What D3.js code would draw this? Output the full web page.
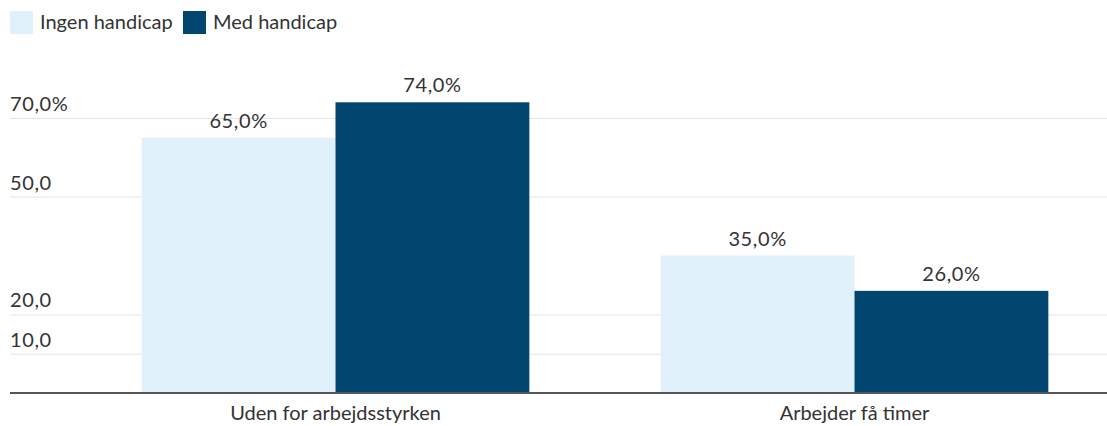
<!DOCTYPE html>
<html>
<head>
<meta charset="utf-8">
<script src="https://cdn.jsdelivr.net/npm/d3@7"></script>
<style>
  body { margin: 0; background: #fff; font-family: Lato, "Noto Sans", sans-serif; }
  svg text { fill: #333; }
</style>
</head>
<body>
<div id="chart"></div>
<script>
// chart data
var categories = ["Uden for arbejdsstyrken", "Arbejder få timer"];
var series = ["Ingen handicap", "Med handicap"];
var ingen = [65.0, 35.0];
var med = [74.0, 26.0];
var yTicks = [10, 20, 50, 70];
var colors = ["#e0f1fc", "#01466e"];

var width = 1107, height = 426;
var fmt = function(v) { return d3.format(".1f")(v).replace(".", ","); };

var svg = d3.select("#chart").append("svg")
  .attr("width", width)
  .attr("height", height);

var y = d3.scaleLinear().domain([0, 70]).range([393, 118]);

var x0 = d3.scaleBand()
  .domain(categories)
  .range([76, 1114])
  .paddingInner(0.253)
  .paddingOuter(0.1265);

var x1 = d3.scaleBand()
  .domain(series)
  .range([0, x0.bandwidth()]);

var color = d3.scaleOrdinal().domain(series).range(colors);

// gridlines + tick labels
var grid = svg.append("g");
grid.selectAll("line")
  .data(yTicks)
  .enter().append("line")
  .attr("x1", 10).attr("x2", width)
  .attr("y1", function(d) { return y(d) + 0.5; })
  .attr("y2", function(d) { return y(d) + 0.5; })
  .style("stroke", "#e4e4e4")
  .style("stroke-width", 1);

grid.selectAll("text")
  .data(yTicks)
  .enter().append("text")
  .attr("x", 10)
  .attr("y", function(d) { return y(d) - 7; })
  .style("font-size", "20px")
  .style("letter-spacing", "0.6px")
  .text(function(d, i) { return fmt(d) + (i == yTicks.length - 1 ? "%" : ""); });

// bars
var rows = categories.map(function(c, i) {
  return [{cat: c, s: series[0], v: ingen[i]}, {cat: c, s: series[1], v: med[i]}];
});

var groups = svg.selectAll("g.group")
  .data(rows)
  .enter().append("g")
  .attr("class", "group")
  .attr("transform", function(d) { return "translate(" + x0(d[0].cat) + ",0)"; });

groups.selectAll("rect")
  .data(function(d) { return d; })
  .enter().append("rect")
  .attr("x", function(d) { return x1(d.s); })
  .attr("width", x1.bandwidth())
  .attr("y", function(d) { return y(d.v); })
  .attr("height", function(d) { return y(0) - y(d.v); })
  .style("fill", function(d) { return color(d.s); });

groups.selectAll("text")
  .data(function(d) { return d; })
  .enter().append("text")
  .attr("x", function(d) { return x1(d.s) + x1.bandwidth() / 2; })
  .attr("y", function(d) { return y(d.v) - 10; })
  .style("text-anchor", "middle")
  .style("font-size", "20px")
  .style("letter-spacing", "0.6px")
  .text(function(d) { return fmt(d.v) + "%"; });

// baseline
svg.append("line")
  .attr("x1", 10).attr("x2", width)
  .attr("y1", y(0)).attr("y2", y(0))
  .style("stroke", "#555")
  .style("stroke-width", 2);

// category labels
svg.selectAll("text.cat")
  .data(categories)
  .enter().append("text")
  .attr("class", "cat")
  .attr("x", function(d) { return x0(d) + x0.bandwidth() / 2; })
  .attr("y", 420)
  .style("text-anchor", "middle")
  .style("font-size", "20px")
  .text(function(d) { return d; });

// legend
var legendX = [10, 183];
var legend = svg.selectAll("g.legend")
  .data(series)
  .enter().append("g")
  .attr("class", "legend")
  .attr("transform", function(d, i) { return "translate(" + legendX[i] + ",11)"; });

legend.append("rect")
  .attr("width", 23).attr("height", 23)
  .style("fill", function(d) { return color(d); });

legend.append("text")
  .attr("x", 30)
  .attr("y", 18)
  .style("font-size", "20px")
  .text(function(d) { return d; });
</script>
</body>
</html>
